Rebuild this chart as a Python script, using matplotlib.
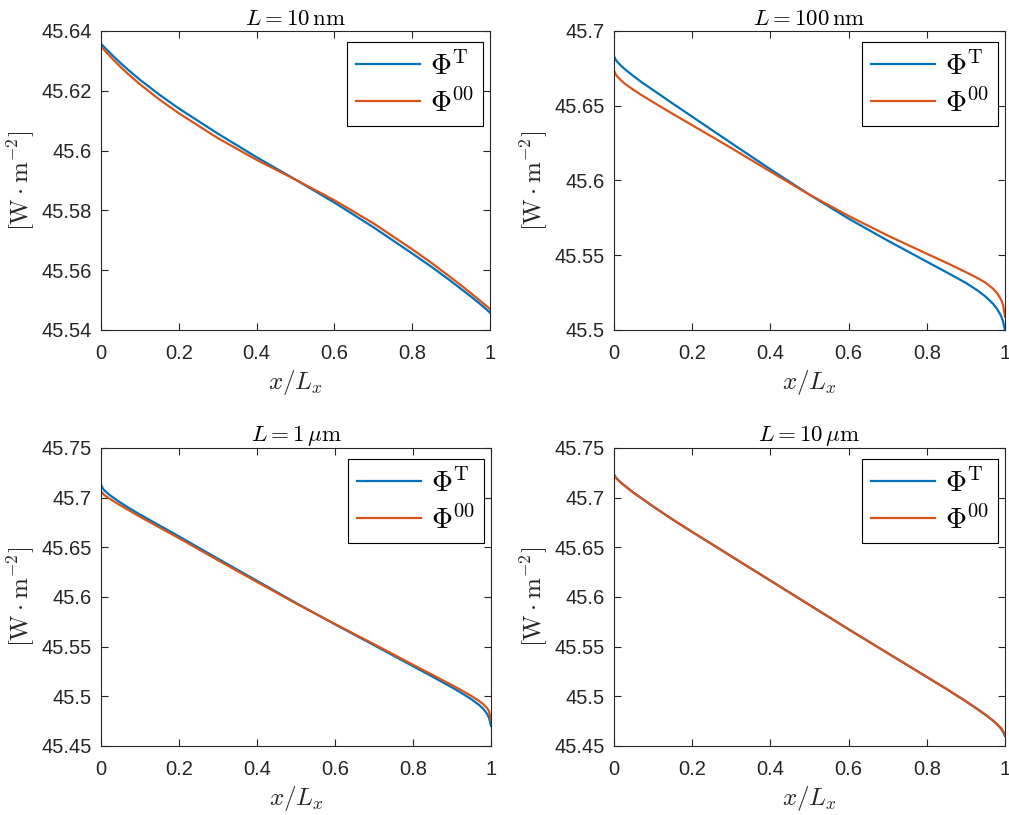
import numpy as np
import matplotlib
matplotlib.use('Agg')
import matplotlib.pyplot as plt

# x / L_x sample points (denser near the walls)
X = [0, 0.005, 0.01, 0.02, 0.03, 0.05, 0.07, 0.1, 0.15, 0.2, 0.3, 0.4, 0.5,
     0.6, 0.7, 0.8, 0.85, 0.9, 0.93, 0.95, 0.97, 0.98, 0.99, 0.995, 1.0]

# L = 10 nm
PHI_T_10NM = [45.6357, 45.6351, 45.6344, 45.6331, 45.6318, 45.6293, 45.6270, 45.6237,
              45.6187, 45.6141, 45.6057, 45.5978, 45.5903, 45.5826, 45.5744, 45.5656,
              45.5611, 45.5563, 45.5533, 45.5513, 45.5492, 45.5481, 45.5470, 45.5464, 45.5458]
PHI_00_10NM = [45.6348, 45.6341, 45.6334, 45.6320, 45.6306, 45.6280, 45.6256, 45.6222,
               45.6171, 45.6125, 45.6042, 45.5969, 45.5903, 45.5834, 45.5757, 45.5670,
               45.5624, 45.5575, 45.5545, 45.5524, 45.5503, 45.5492, 45.5481, 45.5476, 45.5470]

# L = 100 nm
PHI_T_100NM = [45.6830, 45.6805, 45.6789, 45.6763, 45.6740, 45.6698, 45.6659, 45.6605,
               45.6515, 45.6427, 45.6250, 45.6075, 45.5905, 45.5745, 45.5598, 45.5457,
               45.5387, 45.5315, 45.5264, 45.5224, 45.5174, 45.5140, 45.5094, 45.5058, 45.5000]
PHI_00_100NM = [45.6735, 45.6708, 45.6691, 45.6665, 45.6643, 45.6606, 45.6572, 45.6524,
                45.6446, 45.6370, 45.6217, 45.6060, 45.5905, 45.5763, 45.5632, 45.5510,
                45.5450, 45.5387, 45.5347, 45.5317, 45.5275, 45.5246, 45.5203, 45.5168, 45.5089]

# L = 1 um
PHI_T_1UM = [45.7130, 45.7090, 45.7068, 45.7033, 45.7005, 45.6950, 45.6900, 45.6830,
             45.6720, 45.6610, 45.6385, 45.6163, 45.5940, 45.5725, 45.5515, 45.5303,
             45.5198, 45.5090, 45.5020, 45.4970, 45.4912, 45.4875, 45.4823, 45.4782, 45.4703]
PHI_00_1UM = [45.7065, 45.7040, 45.7022, 45.6995, 45.6970, 45.6922, 45.6876, 45.6808,
              45.6700, 45.6592, 45.6370, 45.6152, 45.5935, 45.5728, 45.5525, 45.5318,
              45.5216, 45.5113, 45.5048, 45.5003, 45.4952, 45.4922, 45.4882, 45.4850, 45.4757]

# L = 10 um
PHI_T_10UM = [45.7235, 45.7202, 45.7180, 45.7144, 45.7112, 45.7050, 45.6995, 45.6912,
              45.6780, 45.6655, 45.6410, 45.6165, 45.5920, 45.5675, 45.5435, 45.5195,
              45.5075, 45.4950, 45.4870, 45.4814, 45.4753, 45.4717, 45.4674, 45.4643, 45.4600]
PHI_00_10UM = [45.7228, 45.7198, 45.7178, 45.7143, 45.7112, 45.7050, 45.6995, 45.6912,
               45.6780, 45.6655, 45.6410, 45.6165, 45.5920, 45.5675, 45.5435, 45.5195,
               45.5075, 45.4950, 45.4870, 45.4815, 45.4755, 45.4720, 45.4680, 45.4652, 45.4613]

TITLES = [r'$L = 10\,\mathrm{nm}$', r'$L = 100\,\mathrm{nm}$',
          r'$L = 1\,\mu\mathrm{m}$', r'$L = 10\,\mu\mathrm{m}$']
SERIES = [(PHI_T_10NM, PHI_00_10NM), (PHI_T_100NM, PHI_00_100NM),
          (PHI_T_1UM, PHI_00_1UM), (PHI_T_10UM, PHI_00_10UM)]
YTICKS = [[45.54, 45.56, 45.58, 45.6, 45.62, 45.64],
          [45.5, 45.55, 45.6, 45.65, 45.7],
          [45.45, 45.5, 45.55, 45.6, 45.65, 45.7, 45.75],
          [45.45, 45.5, 45.55, 45.6, 45.65, 45.7, 45.75]]
XTICKS = [0, 0.2, 0.4, 0.6, 0.8, 1]

BLUE = '#0072BD'
ORANGE = '#D95319'
AXC = '#262626'

plt.rcParams.update({
    'font.family': 'Liberation Sans',
    'mathtext.fontset': 'cm',
    'axes.edgecolor': AXC,
    'axes.linewidth': 0.8,
    'xtick.color': AXC,
    'ytick.color': AXC,
    'xtick.direction': 'in',
    'ytick.direction': 'in',
    'xtick.top': True,
    'ytick.right': True,
})

fig = plt.figure(figsize=(10.09, 8.15), dpi=100)
# axes rectangles in pixels: left, top, right, bottom
RECTS = [(101, 31, 490, 330), (614, 31, 1005, 330),
         (101, 448, 491, 746), (614, 448, 1005, 746)]


def fmt(v):
    return f'{v:.2f}'.rstrip('0').rstrip('.')


for rect, title, (phi_t, phi_00), yt in zip(RECTS, TITLES, SERIES, YTICKS):
    l, t, r, b = rect
    ax = fig.add_axes([l / 1009, (815 - b) / 815, (r - l) / 1009, (b - t) / 815])
    ax.plot(X, phi_t, color=BLUE, lw=1.6, label=r'$\Phi^{\mathrm{T}}$')
    ax.plot(X, phi_00, color=ORANGE, lw=1.6, label=r'$\Phi^{00}$')
    ax.set_xlim(0, 1)
    ax.set_ylim(yt[0], yt[-1])
    ax.set_xticks(XTICKS)
    ax.set_xticklabels([fmt(v) for v in XTICKS])
    ax.set_yticks(yt)
    ax.set_yticklabels([fmt(v) for v in yt])
    ax.tick_params(labelsize=14.5, length=5, width=0.8)
    ax.tick_params(axis='x', pad=10)
    ax.tick_params(axis='y', pad=6.5)
    ax.set_title(title, fontsize=16.5, color='black', pad=4)
    ax.set_xlabel(r'$x/L_x$', fontsize=18, color=AXC, labelpad=4)
    ax.set_ylabel(r'$[\mathrm{W}\cdot\mathrm{m}^{-2}]$', fontsize=18, color=AXC, labelpad=3)
    leg = ax.legend(loc='upper right', bbox_to_anchor=(0.982, 0.963), fontsize=21,
                    fancybox=False, framealpha=1, edgecolor='black',
                    handlelength=2.2, labelspacing=0.3, borderpad=0.3,
                    handletextpad=0.35, borderaxespad=0)
    leg.get_frame().set_linewidth(0.8)

fig.savefig('out.png', dpi=100)
plt.close(fig)
